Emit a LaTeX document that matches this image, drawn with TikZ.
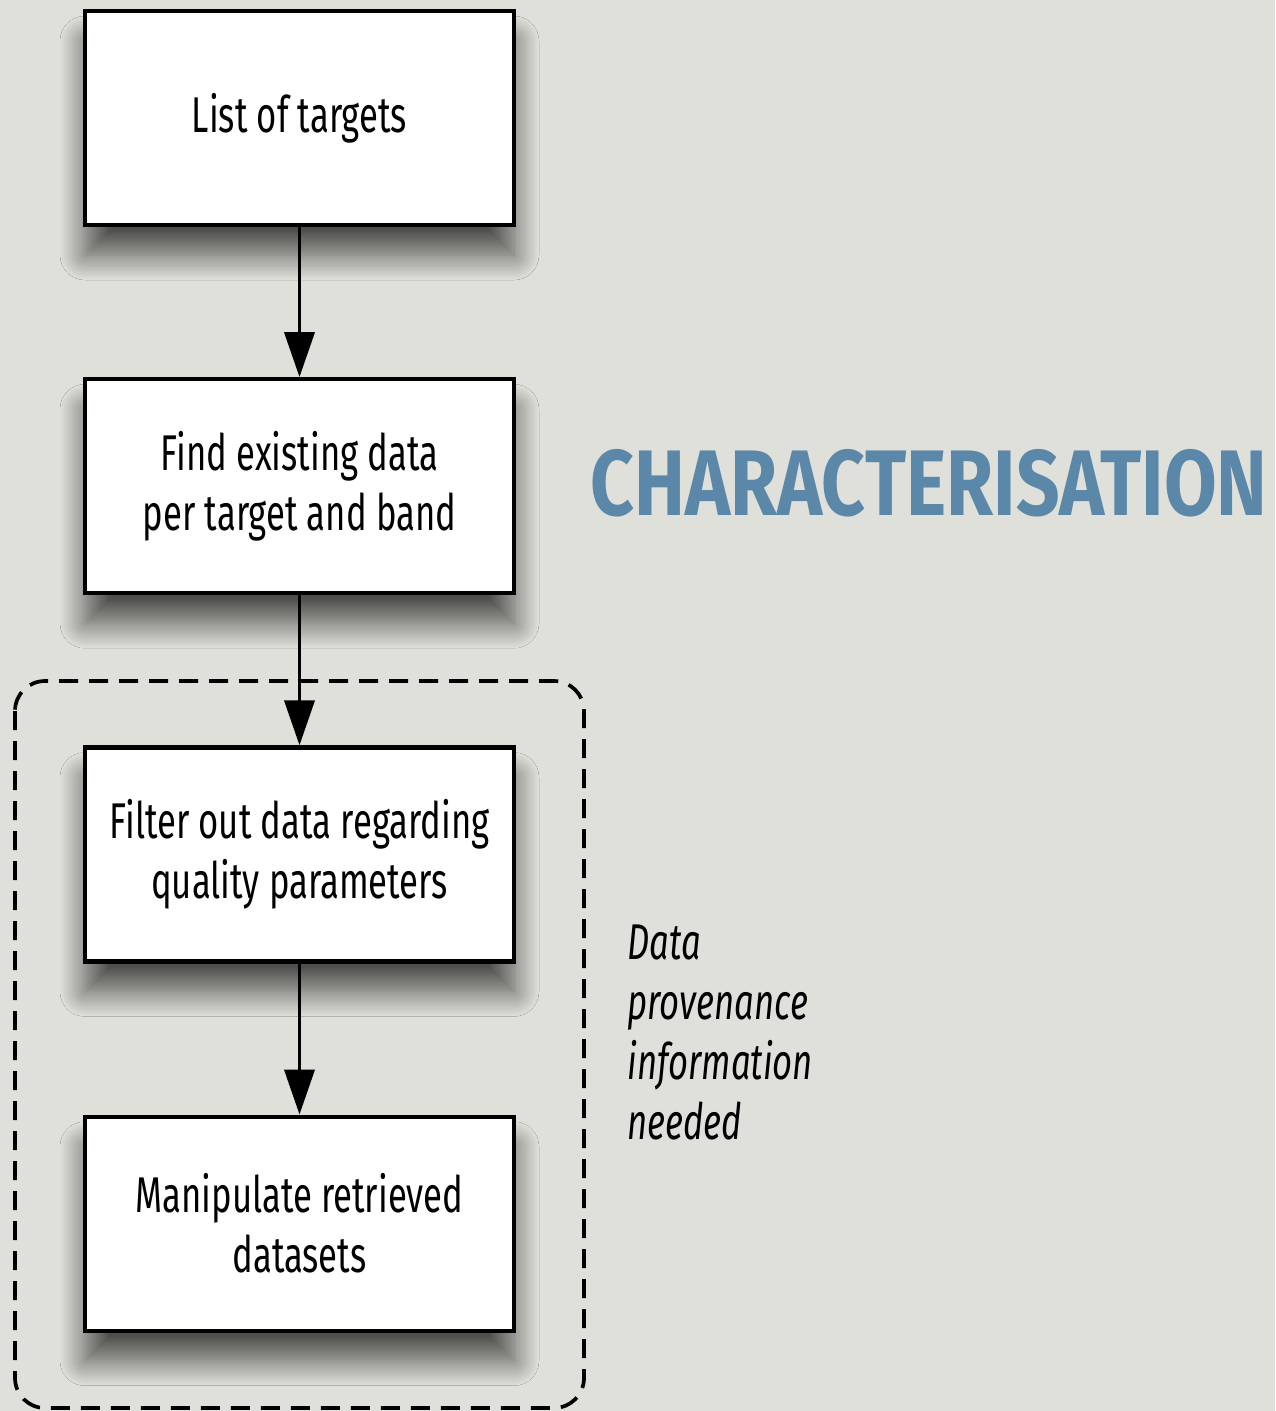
\documentclass[tikz,border=0pt]{standalone}
\usepackage{fontspec}
\setmainfont{Fira Sans}[FakeStretch=0.69]
\newfontfamily\titlefont{Fira Sans}[FakeStretch=0.82]
\usepackage{tikz}
\usetikzlibrary{arrows.meta,positioning,shadows.blur}
\definecolor{paper}{RGB}{224,224,218}
\definecolor{titleblue}{RGB}{91,135,168}

\begin{document}
\begin{tikzpicture}[
  stepbox/.style={draw=black, line width=1.2pt, fill=white,
    minimum width=4.29cm, minimum height=2.14cm, align=center,
    font=\fontsize{14.3}{17.07}\selectfont,
    blur shadow={shadow xshift=0pt, shadow yshift=-0.3cm,
      shadow blur radius=0.25cm, shadow blur steps=20, shadow opacity=65}},
  flow/.style={line width=1.1pt, -{Triangle[length=0.45cm,width=0.3cm]}},
  groupline/.style={line width=1.05pt, dash pattern=on 0.19cm off 0.11cm, rounded corners=0.3cm}
]
% paper
\fill[paper] (0,0) rectangle (12.75,-14.11);
\useasboundingbox (0,0) rectangle (12.75,-14.11);

% group of the last two steps
\coordinate (gnw) at (0.15,-6.81);
\coordinate (gse) at (5.84,-14.08);
\draw[groupline] (gnw) rectangle (gse);

% steps
\node[stepbox] (targets) at (2.995,-1.18) {List of targets};
\node[stepbox, below=1.50cm of targets] (find) {Find existing data\\per target and band};
\node[stepbox, below=1.50cm of find] (filter) {Filter out data regarding\\quality parameters};
\node[stepbox, below=1.51cm of filter] (manip) {Manipulate retrieved\\datasets};

\draw[flow] (targets) -- (find);
\draw[flow] (find) -- (filter);
\draw[flow] (filter) -- (manip);

% title and note
\node[anchor=west, text=titleblue, font=\titlefont\bfseries\fontsize{26.5}{30}\selectfont, inner sep=0pt]
  (title) at (5.9,-4.83) {CHARACTERISATION};
\node[anchor=north west, align=left, inner sep=0pt, font=\itshape\fontsize{14.3}{17.07}\selectfont]
  (note) at (6.27,-9.24) {Data\\provenance\\information\\needed};
\end{tikzpicture}
\end{document}
